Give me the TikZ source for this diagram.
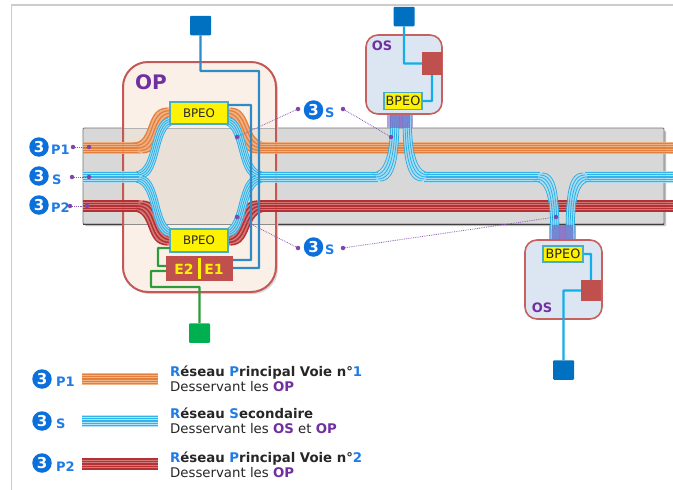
\documentclass[tikz,border=0pt]{standalone}
\usepackage{fontspec}
\setmainfont{DejaVu Sans}
\definecolor{numblue}{HTML}{0B6FDC}
\definecolor{txtblue}{HTML}{1F7BE8}
\definecolor{ppl}{HTML}{7030A0}
\definecolor{redbox}{HTML}{C0504D}
\definecolor{lnkblue}{HTML}{2E8BC6}
\definecolor{cyanl}{HTML}{12AEEA}
\definecolor{sqblue}{HTML}{0070C0}
\definecolor{sqgreen}{HTML}{00B050}
\definecolor{lnkgreen}{HTML}{2E9A3A}
\definecolor{teal1}{HTML}{4BACC6}
\definecolor{purpa}{RGB}{118,92,190}
\definecolor{purpb}{RGB}{182,160,220}
\definecolor{opfillc}{HTML}{FBF0E8}
\definecolor{opbandc}{HTML}{E9E0D8}
\tikzset{
 orangeline/.style={draw={rgb,255:red,228;green,128;blue,62},line width=1.3},
 orangebase/.style={draw={rgb,255:red,240;green,172;blue,122},line width=12,opacity=.9},
 redline/.style={draw={rgb,255:red,180;green,48;blue,50},line width=1.5},
 redbase/.style={draw={rgb,255:red,208;green,110;blue,110},line width=12,opacity=.9},
 blueline/.style={draw={rgb,255:red,50;green,180;blue,235},line width=1.3},
 bluebase/.style={draw={rgb,255:red,165;green,225;blue,248},line width=12,opacity=.85},
 thinline/.style={draw={rgb,255:red,45;green,175;blue,230},line width=.8},
 thinbase/.style={draw={rgb,255:red,160;green,222;blue,246},line width=8,opacity=.9},
 bpeo/.style={draw=teal1,fill=yellow,line width=1.5,inner sep=0,font=\fontsize{11.8}{12}\selectfont,text=black!85},
 sq/.style={rounded corners=1,minimum width=21,minimum height=19.5,inner sep=0},
 wire/.style={line width=2.4,rounded corners=.5},
 num/.style={circle,fill=numblue,text=white,minimum size=19.5,inner sep=0,font=\fontsize{15}{15}\bfseries\selectfont},
 sub/.style={text=txtblue,inner sep=0,font=\fontsize{13}{13}\bfseries\selectfont},
 pdot/.style={circle,fill=ppl!90,minimum size=4.5,inner sep=0},
 pline/.style={draw=ppl!80,line width=.8,densely dotted},
 ostitle/.style={text=ppl,inner sep=0,font=\fontsize{13}{13}\bfseries\selectfont},
 osbox/.style={draw=redbox!90,fill={rgb,255:red,220;green,230;blue,242},line width=1.6,rounded corners=12},
 legt/.style={anchor=base west,inner sep=0,font=\fontsize{13.3}{14}\selectfont,text=black!85},
}
\newcommand{\bundle}[4]{%
  \draw[#1base] #4;
  \foreach \k in {-2,-1,0,1,2}{\draw[#1line,shift={({#2*\k*#3},{\k*#3})}] #4;}}
\newcommand{\thinb}[3]{%
  \draw[thinbase] #3;
  \foreach \k in {-2,-1,0,1,2}{\draw[thinline,shift={({#1*\k*#2},{\k*#2})}] #3;}}
\newcommand{\B}[1]{\textcolor{txtblue}{#1}}
\newcommand{\PP}[1]{\textcolor{ppl}{\bfseries #1}}
\begin{document}
\begin{tikzpicture}[x=1pt,y=-1pt]
\useasboundingbox (0,0) rectangle (673,490);
\fill[white] (0,0) rectangle (673,490);
\draw[black!20,line width=1.6] (11.5,490) -- (11.5,5) -- (673,5);
% band
\fill[black!25,rounded corners=1] (85,131) rectangle (666,226);
\draw[fill={rgb,255:red,216;green,216;blue,216},draw=black!55,line width=.8,rounded corners=1] (83,128) rectangle (664,224);
\draw[black!75,line width=1] (83,224) -- (664,224);
% OP box
\fill[black!15,rounded corners=25] (125,64) rectangle (278,294);
\node[fill=opfillc,rounded corners=25,minimum width=153,minimum height=230,inner sep=0] (opfill) at (199.5,177) {};
\fill[opbandc] (123,128) rectangle (276,224);
\draw[black!30,line width=.6] (123,128) -- (276,128);
\draw[black!45,line width=.7] (123,224) -- (276,224);
\node[draw=redbox!95,line width=2,rounded corners=25,minimum width=153,minimum height=230,inner sep=0] (opbox) at (199.5,177) {};
\node[text=ppl,inner sep=0,font=\fontsize{20}{20}\bfseries\selectfont] (optxt) at (151,82) {OP};
% main lines
\bundle{orange}{0}{2.4}{(83,148) -- (140,148)}
\bundle{orange}{1}{2.4}{(138,148) .. controls (158,148) and (150,113) .. (172,113)}
\bundle{orange}{-1}{2.4}{(226,113) .. controls (247,113) and (240,148) .. (262,148)}
\bundle{orange}{0}{2.4}{(260,148) -- (673,148)}
\bundle{red}{0}{2.4}{(83,206) -- (140,206)}
\bundle{red}{-1}{2.4}{(138,206) .. controls (158,206) and (150,240) .. (172,240)}
\bundle{red}{1}{2.4}{(226,240) .. controls (247,240) and (240,206) .. (262,206)}
\bundle{red}{0}{2.4}{(260,206) -- (673,206)}
% secondary straight
\bundle{blue}{0}{2.4}{(83,177) -- (141,177)}
\bundle{blue}{0}{2.4}{(257,177) -- (378,177)}
\bundle{blue}{0}{2.4}{(424,177) -- (540,177)}
\bundle{blue}{0}{2.4}{(585,177) -- (673,177)}
% branches OP
\thinb{1}{1.5}{(139,175) .. controls (158,172) and (153,124) .. (171,121)}
\thinb{-1}{1.5}{(139,179) .. controls (158,182) and (153,230) .. (171,233)}
\thinb{-1}{1.5}{(227,121) .. controls (245,124) and (240,172) .. (259,175)}
\thinb{1}{1.5}{(227,233) .. controls (245,230) and (240,182) .. (259,179)}
% branches OS
\fill[purpb] (387,112) rectangle (413,128);
\fill[purpb] (549,225) rectangle (576,242);
\thinb{1}{2}{(376,177) .. controls (392,177) and (395,150) .. (395,112)}
\thinb{-1}{2}{(407,112) .. controls (407,150) and (410,177) .. (426,177)}
\thinb{-1}{2}{(538,177) .. controls (553,177) and (555,200) .. (555,243)}
\thinb{1}{2}{(570,243) .. controls (570,200) and (572,177) .. (587,177)}
\fill[purpa,opacity=.6] (390,112) rectangle (410,128);
\fill[purpa,opacity=.6] (552,225) rectangle (573,242);
% OP equipment
\node[bpeo,minimum width=58,minimum height=22] (bt) at (199,113) {BPEO};
\node[bpeo,minimum width=58,minimum height=23] (bb) at (199,240.5) {BPEO};
\node[fill=redbox,minimum width=67,minimum height=25,inner sep=0] (eb) at (199.5,268.5) {};
\node[text=yellow,inner sep=0,font=\fontsize{14}{14}\bfseries\selectfont] (e2) at (184,269) {E2};
\node[text=yellow,inner sep=0,font=\fontsize{14}{14}\bfseries\selectfont] (e1) at (214,269) {E1};
\node[fill=yellow,minimum width=3,minimum height=21,inner sep=0] (ebar) at (199.5,268.5) {};
\node[sq,fill=sqblue] (sa) at (200.5,25.5) {};
\node[sq,fill=sqgreen] (sg) at (199.5,333) {};
\coordinate (ea) at (233,260);
\coordinate (eb2) at (233,268);
\coordinate (ga) at (166,266);
\coordinate (gb) at (166,271);
\coordinate (bbl) at (170,248);
\coordinate (btr) at (228,105);
\draw[wire,lnkblue] (sa.south) -- (200.5,71) -- (259,71) |- (eb2);
\draw[wire,lnkblue] (btr) -- (251,105) |- (ea);
\draw[wire,lnkgreen] (bbl) -- (158,248) |- (ga);
\draw[wire,lnkgreen] (gb) -- (151,271) |- (199.5,287) -- (sg.north);
% OS top
\node[osbox,minimum width=76,minimum height=79,inner sep=0] (os1) at (404,74.5) {};
\node[ostitle] (os1t) at (382,46) {OS};
\node[fill=redbox,minimum width=20,minimum height=23,inner sep=0] (r1) at (432,63.5) {};
\node[sq,fill=sqblue] (s1) at (404,16.5) {};
\node[bpeo,minimum width=38,minimum height=17,font=\fontsize{12.8}{13}\selectfont] (b1) at (403,101) {BPEO};
\draw[wire,cyanl] (s1.south) |- (r1.west);
\draw[wire,cyanl] (r1.south) |- (b1.east);
% OS bottom
\node[osbox,minimum width=77,minimum height=79,inner sep=0] (os2) at (563.5,279.5) {};
\node[ostitle] (os2t) at (542,308) {OS};
\node[fill=redbox,minimum width=20,minimum height=21,inner sep=0] (r2) at (591,290.5) {};
\node[sq,fill=sqblue] (s2) at (563.5,370) {};
\node[bpeo,minimum width=40,minimum height=16,font=\fontsize{12.8}{13}\selectfont] (b2) at (563,254) {BPEO};
\draw[wire,cyanl] (b2.east) -| (r2.north);
\draw[wire,cyanl] (r2.west) -| (s2.north);
% callouts left
\node[num] (n1) at (39,147) {3};
\node[sub,anchor=west] (n1s) at (51,150) {P1};
\node[num] (n2) at (39,176) {3};
\node[sub,anchor=west] (n2s) at (52,180) {S};
\node[num] (n3) at (39,205) {3};
\node[sub,anchor=west] (n3s) at (51,208) {P2};
\node[pdot] (a1) at (73,147) {};\node[pdot] (a2) at (89,147) {};
\node[pdot] (b1a) at (72,177) {};\node[pdot] (b2a) at (89,177) {};
\node[pdot] (c1) at (70,206) {};\node[pdot] (c2) at (87,206) {};
\draw[pline] (a1) -- (a2);
\draw[pline] (b1a) -- (b2a);
\draw[pline] (c1) -- (c2);
% callouts centre
\node[num] (n4) at (313.5,110) {3};
\node[sub,anchor=west] (n4s) at (325,113) {S};
\node[num] (n5) at (313.5,247) {3};
\node[sub,anchor=west] (n5s) at (325,250) {S};
\node[pdot] (d0) at (298,109) {};\node[pdot] (d1) at (237,137) {};
\node[pdot] (d2) at (343,109) {};\node[pdot] (d3) at (391,137) {};
\node[pdot] (f0) at (298,248) {};\node[pdot] (f1) at (237,217) {};
\node[pdot] (f2) at (343,248) {};\node[pdot] (f3) at (556,217) {};
\draw[pline] (d0) -- (d1);
\draw[pline] (d2) -- (d3);
\draw[pline] (f0) -- (f1);
\draw[pline] (f2) -- (f3);
% legend
\node[num] (l1) at (42,379) {3};
\node[sub,anchor=west] (l1s) at (56,382) {P1};
\node[num] (l2) at (42,421) {3};
\node[sub,anchor=west] (l2s) at (56,424) {S};
\node[num] (l3) at (42,463) {3};
\node[sub,anchor=west] (l3s) at (56,467) {P2};
\bundle{orange}{0}{2.2}{(82,379) -- (158,379)}
\bundle{blue}{0}{2.4}{(82,421) -- (158,421)}
\bundle{red}{0}{2.4}{(82,464) -- (158,464)}
\node[legt] (t1) at (170,376) {\bfseries\B{R}éseau \B{P}rincipal Voie n°\B{1}};
\node[legt] (t1b) at (170,391) {Desservant les \PP{OP}};
\node[legt] (t2) at (170,418) {\bfseries\B{R}éseau \B{S}econdaire};
\node[legt] (t2b) at (170,433.5) {Desservant les \PP{OS} et \PP{OP}};
\node[legt] (t3) at (170,462) {\bfseries\B{R}éseau \B{P}rincipal Voie n°\B{2}};
\node[legt] (t3b) at (170,477) {Desservant les \PP{OP}};
\end{tikzpicture}
\end{document}
